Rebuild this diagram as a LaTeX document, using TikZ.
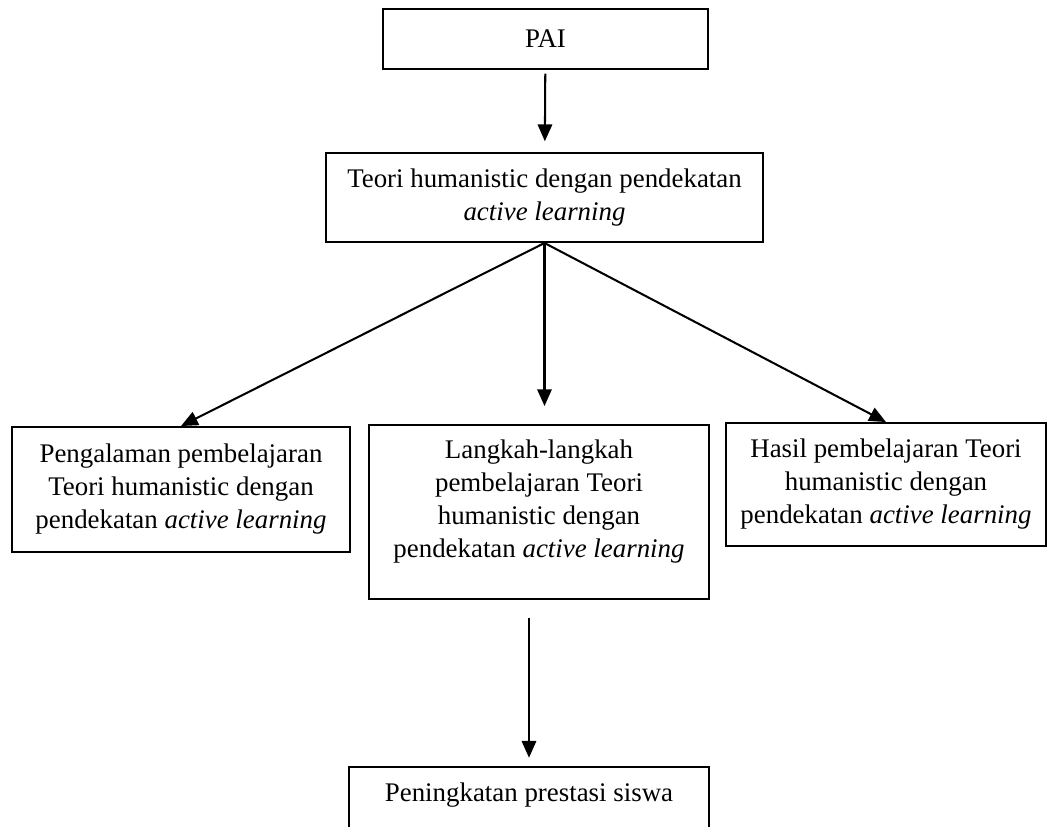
\documentclass[tikz,border=0pt]{standalone}
\usepackage{fontspec}
\setmainfont{Liberation Serif}
\usetikzlibrary{arrows.meta,positioning,calc}
\tikzset{
  >={Triangle[length=7pt,width=6pt]},
  box/.style={draw,line width=0.8pt,align=center,inner sep=2pt,
    font=\fontsize{11.2}{13.75}\selectfont},
  link/.style={->,line width=0.85pt}
}

\begin{document}
\begin{tikzpicture}[x=0.41667pt,y=-0.41667pt]
\useasboundingbox[fill=white] (0,0) rectangle (1059,826);
\node[box,minimum width=135.4pt,minimum height=25pt] (pai) at (545.5,39) {PAI};
\node[box,minimum width=182.1pt,minimum height=37.1pt] (teori) at (544.5,197.5)
  {Teori humanistic dengan pendekatan\\ \textit{active learning}};
\node[box,minimum width=140.8pt,minimum height=52.1pt] (pengalaman) at (181,489.5)
  {Pengalaman pembelajaran\\ Teori humanistic dengan\\ pendekatan \textit{active learning}};
\node[box,minimum width=141.7pt,minimum height=72.5pt] (langkah) at (539,512)
  {Langkah-langkah\\ pembelajaran Teori\\ humanistic dengan\\ pendekatan \textit{active learning}\rule[-11pt]{0pt}{11pt}};
\node[box,minimum width=133.3pt,minimum height=51.25pt] (hasil) at (886,484.5)
  {Hasil pembelajaran Teori\\ humanistic dengan\\ pendekatan \textit{active learning}};
\node[box,minimum width=150pt,minimum height=27pt,text depth=6pt] (siswa) at (529,799.5)
  {Peningkatan prestasi siswa};
% connectors
\draw[link,shorten <=1.5pt,shorten >=4.5pt] (pai) -- (teori);
\draw[link] (teori.south) -- (pengalaman.north);
\draw[link,shorten >=7.5pt] (teori.south) -- (teori.south |- langkah.north);
\draw[link] (teori.south) -- (hasil.north);
\draw[link,shorten <=7.5pt,shorten >=3.5pt] (siswa.north |- langkah.south) -- (siswa.north);
\end{tikzpicture}
\end{document}
